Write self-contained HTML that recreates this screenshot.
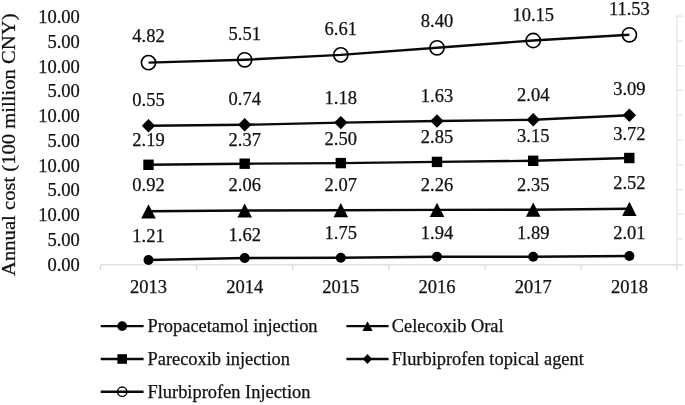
<!DOCTYPE html><html><head><meta charset="utf-8"><style>html,body{margin:0;padding:0;background:#fff;overflow:hidden;}svg{display:block;}text{font-family:"Liberation Serif",serif;fill:#111;stroke:#111;stroke-width:0.25px;}svg{will-change:transform;}</style></head><body>
<svg width="685" height="405" viewBox="0 0 685 405">
<g stroke="#d9d9d9" stroke-width="1.3" fill="none">
<path d="M100.4 264.8 H683"/>
<path d="M100.4 264.8 V270"/>
<path d="M196.6 264.8 V270"/>
<path d="M292.7 264.8 V270"/>
<path d="M388.9 264.8 V270"/>
<path d="M485.1 264.8 V270"/>
<path d="M581.2 264.8 V270"/>
<path d="M676.9 264.8 V270"/>
</g>
<g stroke="#e2e2e2" stroke-width="1.2" fill="none">
<path d="M676.9 15.6 V264.8"/>
<path d="M676.9 16.1 H683"/>
<path d="M676.9 40.9 H683"/>
<path d="M676.9 65.6 H683"/>
<path d="M676.9 90.4 H683"/>
<path d="M676.9 115.2 H683"/>
<path d="M676.9 139.9 H683"/>
<path d="M676.9 164.7 H683"/>
<path d="M676.9 189.5 H683"/>
<path d="M676.9 214.3 H683"/>
<path d="M676.9 239.0 H683"/>
</g>
<text x="79.8" y="23.0" font-size="18.5" text-anchor="end">10.00</text>
<text x="79.8" y="47.8" font-size="18.5" text-anchor="end">5.00</text>
<text x="79.8" y="72.5" font-size="18.5" text-anchor="end">10.00</text>
<text x="79.8" y="97.3" font-size="18.5" text-anchor="end">5.00</text>
<text x="79.8" y="122.1" font-size="18.5" text-anchor="end">10.00</text>
<text x="79.8" y="146.9" font-size="18.5" text-anchor="end">5.00</text>
<text x="79.8" y="171.6" font-size="18.5" text-anchor="end">10.00</text>
<text x="79.8" y="196.4" font-size="18.5" text-anchor="end">5.00</text>
<text x="79.8" y="221.2" font-size="18.5" text-anchor="end">10.00</text>
<text x="79.8" y="245.9" font-size="18.5" text-anchor="end">5.00</text>
<text x="79.8" y="270.7" font-size="18.5" text-anchor="end">0.00</text>
<text x="148.5" y="292.6" font-size="18.5" text-anchor="middle">2013</text>
<text x="244.7" y="292.6" font-size="18.5" text-anchor="middle">2014</text>
<text x="340.8" y="292.6" font-size="18.5" text-anchor="middle">2015</text>
<text x="437.0" y="292.6" font-size="18.5" text-anchor="middle">2016</text>
<text x="533.2" y="292.6" font-size="18.5" text-anchor="middle">2017</text>
<text x="629.4" y="292.6" font-size="18.5" text-anchor="middle">2018</text>
<text transform="translate(14.7 144.7) rotate(-90) scale(1.086 1)" font-size="19" text-anchor="middle">Annual cost (100 million CNY)</text>
<polyline points="148.5,62.6 244.7,59.8 340.8,54.9 437.0,47.8 533.2,40.5 629.4,34.8" fill="none" stroke="#0a0a0a" stroke-width="2.4"/>
<text x="148.5" y="42.2" font-size="18.5" text-anchor="middle">4.82</text>
<text x="244.7" y="40.0" font-size="18.5" text-anchor="middle">5.51</text>
<text x="340.8" y="35.1" font-size="18.5" text-anchor="middle">6.61</text>
<text x="437.0" y="27.4" font-size="18.5" text-anchor="middle">8.40</text>
<text x="533.2" y="20.9" font-size="18.5" text-anchor="middle">10.15</text>
<text x="629.4" y="14.6" font-size="18.5" text-anchor="middle">11.53</text>
<polyline points="148.5,125.7 244.7,124.8 340.8,122.6 437.0,121.0 533.2,119.8 629.4,115.3" fill="none" stroke="#0a0a0a" stroke-width="2.4"/>
<text x="148.5" y="105.8" font-size="18.5" text-anchor="middle">0.55</text>
<text x="244.7" y="104.8" font-size="18.5" text-anchor="middle">0.74</text>
<text x="340.8" y="103.6" font-size="18.5" text-anchor="middle">1.18</text>
<text x="437.0" y="101.5" font-size="18.5" text-anchor="middle">1.63</text>
<text x="533.2" y="100.5" font-size="18.5" text-anchor="middle">2.04</text>
<text x="629.4" y="95.2" font-size="18.5" text-anchor="middle">3.09</text>
<polyline points="148.5,164.8 244.7,163.7 340.8,163.1 437.0,161.9 533.2,160.8 629.4,158.0" fill="none" stroke="#0a0a0a" stroke-width="2.4"/>
<text x="148.5" y="146.3" font-size="18.5" text-anchor="middle">2.19</text>
<text x="244.7" y="146.3" font-size="18.5" text-anchor="middle">2.37</text>
<text x="340.8" y="144.6" font-size="18.5" text-anchor="middle">2.50</text>
<text x="437.0" y="143.1" font-size="18.5" text-anchor="middle">2.85</text>
<text x="533.2" y="141.8" font-size="18.5" text-anchor="middle">3.15</text>
<text x="629.4" y="140.2" font-size="18.5" text-anchor="middle">3.72</text>
<polyline points="148.5,211.3 244.7,210.5 340.8,210.2 437.0,209.9 533.2,209.7 629.4,208.8" fill="none" stroke="#0a0a0a" stroke-width="2.4"/>
<text x="148.5" y="190.6" font-size="18.5" text-anchor="middle">0.92</text>
<text x="244.7" y="190.7" font-size="18.5" text-anchor="middle">2.06</text>
<text x="340.8" y="190.7" font-size="18.5" text-anchor="middle">2.07</text>
<text x="437.0" y="190.5" font-size="18.5" text-anchor="middle">2.26</text>
<text x="533.2" y="190.5" font-size="18.5" text-anchor="middle">2.35</text>
<text x="629.4" y="188.8" font-size="18.5" text-anchor="middle">2.52</text>
<polyline points="148.5,260.0 244.7,258.0 340.8,257.7 437.0,256.8 533.2,256.8 629.4,256.0" fill="none" stroke="#0a0a0a" stroke-width="2.4"/>
<text x="148.5" y="241.7" font-size="18.5" text-anchor="middle">1.21</text>
<text x="244.7" y="240.5" font-size="18.5" text-anchor="middle">1.62</text>
<text x="340.8" y="239.3" font-size="18.5" text-anchor="middle">1.75</text>
<text x="437.0" y="239.0" font-size="18.5" text-anchor="middle">1.94</text>
<text x="533.2" y="239.0" font-size="18.5" text-anchor="middle">1.89</text>
<text x="629.4" y="238.5" font-size="18.5" text-anchor="middle">2.01</text>
<circle cx="148.5" cy="62.6" r="7.1" fill="none" stroke="#000" stroke-width="1.6"/>
<circle cx="244.7" cy="59.8" r="7.1" fill="none" stroke="#000" stroke-width="1.6"/>
<circle cx="340.8" cy="54.9" r="7.1" fill="none" stroke="#000" stroke-width="1.6"/>
<circle cx="437.0" cy="47.8" r="7.1" fill="none" stroke="#000" stroke-width="1.6"/>
<circle cx="533.2" cy="40.5" r="7.1" fill="none" stroke="#000" stroke-width="1.6"/>
<circle cx="629.4" cy="34.8" r="7.1" fill="none" stroke="#000" stroke-width="1.6"/>
<path d="M141.8 125.7 L148.5 119.0 L155.2 125.7 L148.5 132.4 Z" fill="#000"/>
<path d="M238.0 124.8 L244.7 118.1 L251.4 124.8 L244.7 131.5 Z" fill="#000"/>
<path d="M334.1 122.6 L340.8 115.9 L347.5 122.6 L340.8 129.3 Z" fill="#000"/>
<path d="M430.3 121.0 L437.0 114.3 L443.7 121.0 L437.0 127.7 Z" fill="#000"/>
<path d="M526.5 119.8 L533.2 113.1 L539.9 119.8 L533.2 126.5 Z" fill="#000"/>
<path d="M622.6 115.3 L629.4 108.6 L636.1 115.3 L629.4 122.0 Z" fill="#000"/>
<rect x="143.3" y="159.6" width="10.4" height="10.4" fill="#000"/>
<rect x="239.5" y="158.5" width="10.4" height="10.4" fill="#000"/>
<rect x="335.6" y="157.9" width="10.4" height="10.4" fill="#000"/>
<rect x="431.8" y="156.7" width="10.4" height="10.4" fill="#000"/>
<rect x="528.0" y="155.6" width="10.4" height="10.4" fill="#000"/>
<rect x="624.1" y="152.8" width="10.4" height="10.4" fill="#000"/>
<path d="M148.5 204.2 L155.8 218.4 L141.2 218.4 Z" fill="#000"/>
<path d="M244.7 203.4 L252.0 217.6 L237.4 217.6 Z" fill="#000"/>
<path d="M340.8 203.1 L348.1 217.3 L333.5 217.3 Z" fill="#000"/>
<path d="M437.0 202.8 L444.3 217.0 L429.7 217.0 Z" fill="#000"/>
<path d="M533.2 202.6 L540.5 216.8 L525.9 216.8 Z" fill="#000"/>
<path d="M629.4 201.7 L636.6 215.9 L622.1 215.9 Z" fill="#000"/>
<circle cx="148.5" cy="260.0" r="5.0" fill="#000"/>
<circle cx="244.7" cy="258.0" r="5.0" fill="#000"/>
<circle cx="340.8" cy="257.7" r="5.0" fill="#000"/>
<circle cx="437.0" cy="256.8" r="5.0" fill="#000"/>
<circle cx="533.2" cy="256.8" r="5.0" fill="#000"/>
<circle cx="629.4" cy="256.0" r="5.0" fill="#000"/>
<path d="M100.7 326.1 H143.6" stroke="#0a0a0a" stroke-width="2.4"/>
<circle cx="122.2" cy="326.1" r="4.9" fill="#000"/>
<text x="147.5" y="332.2" font-size="18.4">Propacetamol injection</text>
<path d="M346.4 326.1 H388.6" stroke="#0a0a0a" stroke-width="2.4"/>
<path d="M367.5 321.2 L372.6 331.0 L362.4 331.0 Z" fill="#000"/>
<text x="391.8" y="332.2" font-size="18.4">Celecoxib Oral</text>
<path d="M100.7 359.0 H143.6" stroke="#0a0a0a" stroke-width="2.4"/>
<rect x="117.4" y="354.2" width="9.6" height="9.6" fill="#000"/>
<text x="147.5" y="365.1" font-size="18.4">Parecoxib injection</text>
<path d="M346.4 359.0 H388.6" stroke="#0a0a0a" stroke-width="2.4"/>
<path d="M362.9 359.0 L367.5 354.1 L372.1 359.0 L367.5 363.9 Z" fill="#000"/>
<text x="391.8" y="365.1" font-size="18.4">Flurbiprofen topical agent</text>
<path d="M100.7 391.7 H143.6" stroke="#0a0a0a" stroke-width="2.4"/>
<circle cx="122.2" cy="391.7" r="4.7" fill="none" stroke="#000" stroke-width="1.4"/>
<text x="147.5" y="397.8" font-size="18.4">Flurbiprofen Injection</text>
</svg></body></html>
